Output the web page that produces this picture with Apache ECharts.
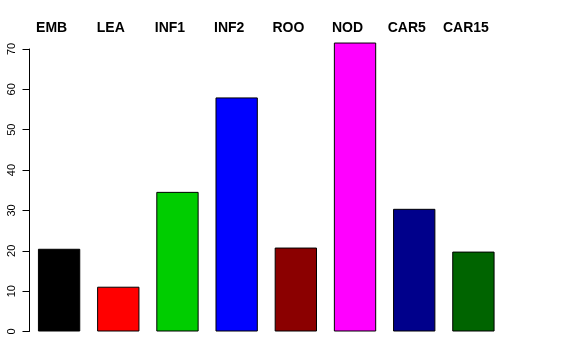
<!DOCTYPE html>
<html>
<head>
<meta charset="utf-8">
<script src="https://cdn.jsdelivr.net/npm/echarts@6/dist/echarts.min.js"></script>
<style>html,body{margin:0;padding:0;background:#fff;}#c{width:576px;height:360px;}</style>
</head>
<body>
<div id="c"></div>
<script>
var categories = ['EMB', 'LEA', 'INF1', 'INF2', 'ROO', 'NOD', 'CAR5', 'CAR15'];
var values = [20.5, 11.1, 34.6, 58.0, 20.8, 71.6, 30.4, 19.8];
var barColors = ['#000000', '#FF0000', '#00CD00', '#0000FF', '#8B0000', '#FF00FF', '#00008B', '#006400'];
var yTicks = [0, 10, 20, 30, 40, 50, 60, 70];

var chart = echarts.init(document.getElementById('c'), null, {renderer: 'canvas'});
chart.setOption({
  animation: false,
  backgroundColor: '#ffffff',
  grid: {left: 29.5, right: 73, top: 49, bottom: 28.5, containLabel: false},
  xAxis: {
    type: 'category',
    data: categories,
    position: 'top',
    axisLine: {show: false},
    axisTick: {show: false},
    splitLine: {show: false},
    axisLabel: {
      show: true,
      interval: 0,
      margin: 14,
      color: '#000',
      fontFamily: 'Liberation Sans, Arial, sans-serif',
      fontWeight: 'bold',
      fontSize: 14,
      padding: [0, 15, 0, 0]
    }
  },
  yAxis: {
    type: 'value',
    min: yTicks[0],
    max: yTicks[yTicks.length - 1],
    interval: 10,
    axisLine: {show: true, lineStyle: {color: '#000', width: 1}},
    axisTick: {show: true, length: 7, lineStyle: {color: '#000', width: 1}},
    splitLine: {show: false},
    axisLabel: {
      rotate: 90,
      margin: 12,
      color: '#000',
      fontFamily: 'Liberation Sans, Arial, sans-serif',
      fontSize: 11
    }
  },
  series: [{
    type: 'bar',
    data: values.map(function (v, i) {
      return {value: v, itemStyle: {color: barColors[i]}};
    }),
    barCategoryGap: '28.5%',
    clip: false,
    itemStyle: {borderColor: '#000', borderWidth: 1},
    emphasis: {disabled: true}
  }]
});
</script>
</body>
</html>
